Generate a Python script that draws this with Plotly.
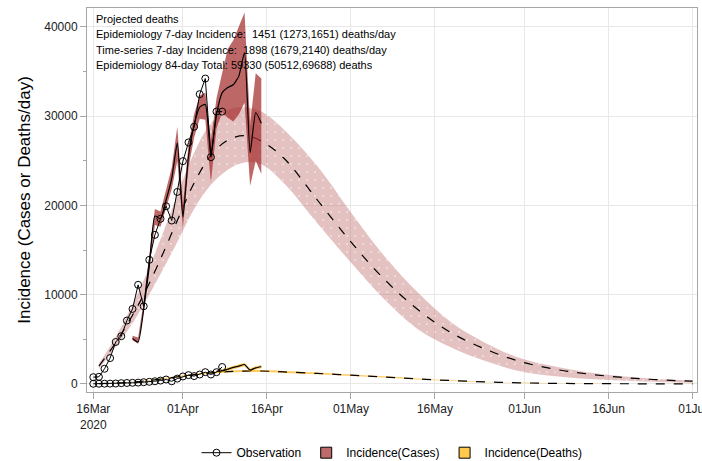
import plotly.graph_objects as go
import pandas as pd

# ---------------- data ----------------
obs_start = "2020-03-16"
obs_cases = [760, 800, 1700, 2900, 4700, 5350, 7100, 8400, 11100, 8700, 13900, 16700,
             18500, 19900, 18300, 21500, 24950, 27050, 28800, 32450, 34200, 25400, 30500, 30500]
obs_deaths = [20, 25, 30, 40, 50, 90, 110, 130, 150, 200, 240, 300,
              380, 500, 300, 600, 840, 990, 880, 1060, 1320, 1060, 1320, 1900]

ts_start = "2020-03-23"
ts_cases = [5100, 4700, 8400, 13200, 18800, 18500, 20600, 23000, 27000, 18700, 25500, 29000,
            31000, 31300, 25500, 30200, 32600, 33200, 33500, 34500, 37100, 25900, 30400, 29200]
ts_cases_hi = [5400, 5200, 9200, 14200, 19600, 19300, 21600, 24200, 28800, 20000, 26800, 30200,
               32300, 32600, 27300, 32000, 34800, 37500, 38500, 40000, 41600, 29000, 34800, 34200]
ts_cases_lo = [4900, 4500, 8000, 12600, 17800, 17600, 19600, 21800, 25000, 17500, 24200, 27600,
               29700, 29600, 22500, 28600, 30400, 29800, 29400, 30200, 31500, 22200, 25000, 23500]

ts_d_start = "2020-04-07"
ts_deaths = [1400, 1450, 1650, 1850, 2000, 2180, 1550, 1810, 1930]
ts_deaths_hi = [1550, 1620, 1830, 2030, 2190, 2370, 1730, 1990, 2120]
ts_deaths_lo = [1250, 1290, 1480, 1670, 1820, 1990, 1380, 1630, 1750]

epi_dates = ["2020-03-17", "2020-03-19", "2020-03-21", "2020-03-23", "2020-03-25", "2020-03-28",
             "2020-03-31", "2020-04-03", "2020-04-06", "2020-04-09", "2020-04-12", "2020-04-15",
             "2020-04-19", "2020-04-25", "2020-05-01", "2020-05-07", "2020-05-13", "2020-05-19",
             "2020-05-25", "2020-05-31", "2020-06-06", "2020-06-12", "2020-06-18", "2020-06-24",
             "2020-07-01"]
epi_cases = [2000, 3700, 5600, 7700, 10000, 14000, 18300, 22500, 25600, 27300, 27800, 27200,
             25300, 20600, 15900, 11700, 8300, 5700, 3900, 2550, 1700, 1140, 760, 500, 310]
epi_cases_hi = [2300, 4200, 6400, 8900, 11600, 16200, 21200, 25900, 29200, 30700, 31000, 30500,
                28500, 24400, 19200, 14300, 10200, 6850, 4600, 2930, 2000, 1330, 880, 580, 390]
epi_cases_lo = [1700, 3300, 5000, 6800, 8900, 12300, 15900, 19600, 22300, 24000, 24800, 24600,
                22500, 18000, 13600, 9460, 6100, 4050, 2560, 1440, 880, 580, 390, 250, 130]
epi_deaths = [40, 80, 130, 220, 330, 550, 800, 1050, 1250, 1380, 1440, 1450,
              1350, 1180, 980, 780, 560, 380, 230, 130, 70, 40, 25, 15, 10]
epi_deaths_hi = [50, 95, 150, 250, 370, 610, 880, 1140, 1350, 1490, 1550, 1560,
                 1460, 1280, 1060, 850, 620, 420, 260, 150, 85, 50, 32, 20, 14]
epi_deaths_lo = [30, 65, 110, 190, 290, 490, 720, 960, 1150, 1270, 1330, 1340,
                 1240, 1080, 900, 710, 500, 340, 200, 110, 55, 30, 18, 10, 6]

tick_dates = ["2020-03-16", "2020-04-01", "2020-04-16", "2020-05-01", "2020-05-16",
              "2020-06-01", "2020-06-16", "2020-07-01"]
tick_text = ["16Mar<br>2020", "01Apr", "16Apr", "01May", "16May", "01Jun", "16Jun", "01Jul"]
y_ticks = [0, 10000, 20000, 30000, 40000]
y_tick_text = ["0", "10000", "20000", "30000", "40000"]

info_lines = ["Projected deaths",
              "Epidemiology 7-day Incidence:  1451 (1273,1651) deaths/day",
              "Time-series 7-day Incidence:  1898 (1679,2140) deaths/day",
              "Epidemiology 84-day Total: 59330 (50512,69688) deaths"]

# ---------------- styles ----------------
LIGHT = "rgba(190,110,110,0.42)"
DARK = "rgba(165,45,45,0.72)"
YEL = "rgba(255,185,40,0.75)"
FONT = "Arial, Liberation Sans, sans-serif"

obs_x = pd.date_range(obs_start, periods=len(obs_cases), freq="D")
ts_x = pd.date_range(ts_start, periods=len(ts_cases), freq="D")
tsd_x = pd.date_range(ts_d_start, periods=len(ts_deaths), freq="D")
epi_x = pd.to_datetime(epi_dates)

fig = go.Figure()


def band(x, lo, hi, color, pattern=None, shape="spline"):
    fig.add_trace(go.Scatter(x=x, y=lo, mode="lines", line=dict(width=0, shape=shape),
                             showlegend=False, hoverinfo="skip"))
    kw = {}
    if pattern:
        kw["fillpattern"] = dict(shape=".", fgcolor="white", bgcolor=color, size=8, solidity=0.05)
    fig.add_trace(go.Scatter(x=x, y=hi, mode="lines", line=dict(width=0, shape=shape),
                             fill="tonexty", fillcolor=color, showlegend=False,
                             hoverinfo="skip", **kw))


# epidemiology bands + dashed lines
band(epi_x, epi_cases_lo, epi_cases_hi, LIGHT, pattern=True)
band(epi_x, epi_deaths_lo, epi_deaths_hi, YEL)
fig.add_trace(go.Scatter(x=epi_x, y=epi_cases, mode="lines",
                         line=dict(color="black", width=1.2, dash="dash", shape="spline"),
                         showlegend=False))
fig.add_trace(go.Scatter(x=epi_x, y=epi_deaths, mode="lines",
                         line=dict(color="black", width=1.2, dash="dash", shape="spline"),
                         showlegend=False))

# time-series bands + solid lines
band(ts_x, ts_cases_lo, ts_cases_hi, DARK, shape="linear")
band(tsd_x, ts_deaths_lo, ts_deaths_hi, YEL, shape="linear")
fig.add_trace(go.Scatter(x=ts_x, y=ts_cases, mode="lines",
                         line=dict(color="black", width=1.2, shape="spline", smoothing=0.5),
                         showlegend=False))
fig.add_trace(go.Scatter(x=tsd_x, y=ts_deaths, mode="lines",
                         line=dict(color="black", width=1.2, shape="spline", smoothing=0.5),
                         showlegend=False))

# observations
obs_marker = dict(symbol="circle-open", size=7, color="black", line=dict(width=1))
fig.add_trace(go.Scatter(x=obs_x, y=obs_cases, mode="lines+markers", name="Observation",
                         line=dict(color="black", width=1), marker=obs_marker))
fig.add_trace(go.Scatter(x=obs_x, y=obs_deaths, mode="lines+markers", showlegend=False,
                         line=dict(color="black", width=1), marker=obs_marker))

# legend-only items
fig.add_trace(go.Scatter(x=[None], y=[None], mode="markers", name="Incidence(Cases)",
                         marker=dict(symbol="square", size=11, color="#BE6A6A",
                                     line=dict(color="black", width=1))))
fig.add_trace(go.Scatter(x=[None], y=[None], mode="markers", name="Incidence(Deaths)",
                         marker=dict(symbol="square", size=11, color="#FFC94D",
                                     line=dict(color="black", width=1))))

# info text
info_y = [0.9714, 0.931, 0.8906, 0.8503]
for t, yy in zip(info_lines, info_y):
    fig.add_annotation(xref="paper", yref="paper", x=0.012, y=yy,
                       xanchor="left", yanchor="middle", text=t, showarrow=False,
                       font=dict(family=FONT, size=11, color="black"))

fig.update_layout(
    width=702, height=461,
    margin=dict(l=87, r=5, t=8, b=69, autoexpand=False),
    plot_bgcolor="white", paper_bgcolor="white",
    font=dict(family=FONT, size=12, color="#222"),
    legend=dict(orientation="h", x=0.5, xanchor="center",
                yref="container", y=0.018, yanchor="middle",
                traceorder="normal",
                font=dict(family=FONT, size=12, color="black")),
)
fig.update_xaxes(type="date", range=["2020-03-14 21:00", "2020-07-01 19:00"],
                 tickvals=pd.to_datetime(tick_dates), ticktext=tick_text,
                 ticklabeloverflow="allow", automargin=False,
                 showgrid=True, gridcolor="#e8e8e8", gridwidth=1,
                 showline=True, linecolor="#a6a6a6", mirror=True,
                 ticks="outside", ticklen=6, tickcolor="#a6a6a6", zeroline=False,
                 tickfont=dict(size=12, color="#222"))
fig.update_yaxes(range=[-900, 42100], tickvals=y_ticks, ticktext=y_tick_text,
                 automargin=False,
                 showgrid=True, gridcolor="#e8e8e8", gridwidth=1,
                 showline=True, linecolor="#a6a6a6", mirror=True,
                 ticks="outside", ticklen=6, tickcolor="#a6a6a6", zeroline=False,
                 minor=dict(ticks="outside", ticklen=3, dtick=5000, tick0=0,
                            tickcolor="#a6a6a6", showgrid=False),
                 tickfont=dict(size=12, color="#222"),
                 title=dict(text="Incidence (Cases or Deaths/day)",
                            font=dict(family=FONT, size=17, color="black"), standoff=9))

fig.write_html("out.html", config={"displayModeBar": False},
               post_script="document.body.style.margin='0';document.body.style.overflow='hidden';")
